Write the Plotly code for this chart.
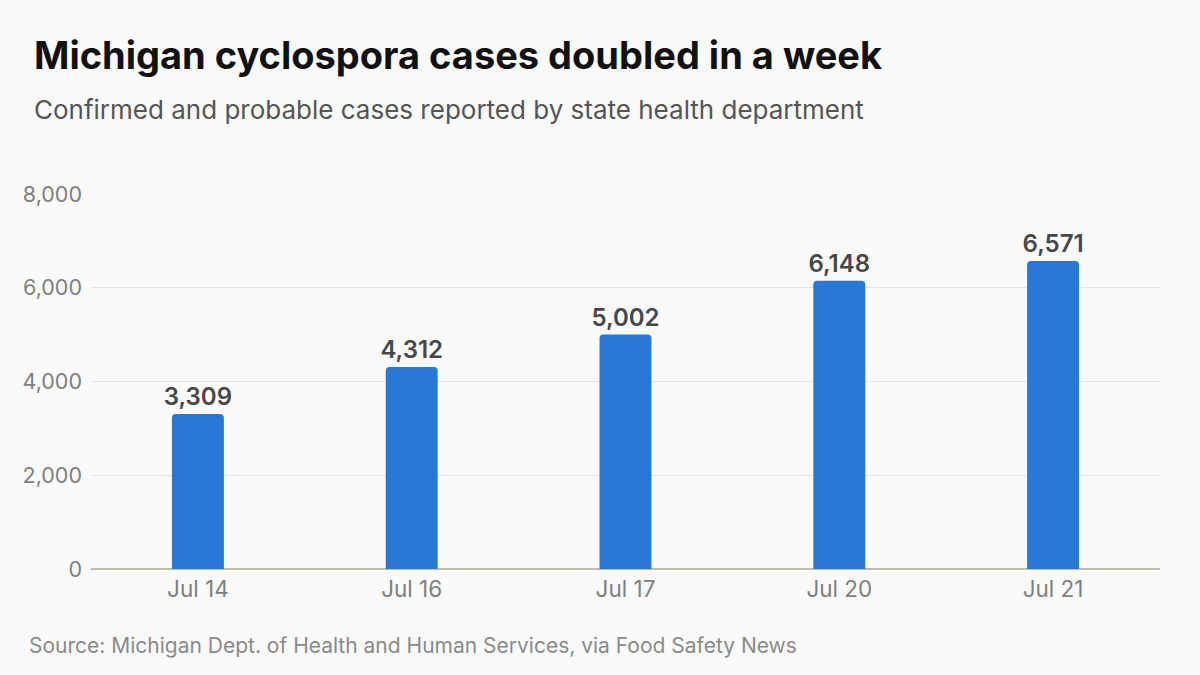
import plotly.graph_objects as go

dates = ["Jul 14", "Jul 16", "Jul 17", "Jul 20", "Jul 21"]
cases = [3309, 4312, 5002, 6148, 6571]
y_ticks = [0, 2000, 4000, 6000, 8000]
y_tick_labels = ["0", "2,000", "4,000", "6,000", "8,000"]

title = "Michigan cyclospora cases doubled in a week"
subtitle = "Confirmed and probable cases reported by state health department"
source = "Source: Michigan Dept. of Health and Human Services, via Food Safety News"

W, H = 1200, 675
L, R, T, B = 91, 40, 194, 106
ph = H - T - B

def py(y):
    return (H - B - y) / ph

fig = go.Figure(go.Bar(
    x=dates, y=cases,
    marker=dict(color="#2878d6", line=dict(width=0)),
    text=[f"{v:,}" for v in cases],
    textposition="outside",
    constraintext="none",
    textfont=dict(family="Inter", size=24, color="#474747", weight=600),
    cliponaxis=False,
    hoverinfo="skip",
))

fig.update_layout(
    width=W, height=H,
    margin=dict(l=L, r=R, t=T, b=B),
    paper_bgcolor="#fafafa", plot_bgcolor="#fafafa",
    bargap=0.757,
    barcornerradius=4,
    showlegend=False,
    font=dict(family="Inter"),
    xaxis=dict(showgrid=False, showline=False, ticks="", tickfont=dict(size=22.5, color="#808080"),
               ticklabelstandoff=4),
    yaxis=dict(range=[0, 8000], tickvals=y_ticks, ticktext=y_tick_labels,
               showgrid=True, gridcolor="#e4e4e4", gridwidth=1,
               zeroline=True, zerolinecolor="#bdbdb3", zerolinewidth=2,
               showline=False, ticks="", ticklabelstandoff=8,
               tickfont=dict(size=21.5, color="#808080")),
    annotations=[
        dict(text=f"<b>{title}</b>", xref="paper", yref="paper", x=-(L - 32) / (W - L - R), y=py(55),
             xanchor="left", yanchor="middle", showarrow=False,
             font=dict(family="Inter", size=38, color="#111111")),
        dict(text=subtitle, xref="paper", yref="paper", x=-(L - 32) / (W - L - R), y=py(109),
             xanchor="left", yanchor="middle", showarrow=False,
             font=dict(family="Inter", size=26, color="#555555")),
        dict(text=source, xref="paper", yref="paper", x=-(L - 27) / (W - L - R), y=py(645),
             xanchor="left", yanchor="middle", showarrow=False,
             font=dict(family="Inter", size=21, color="#8a8a8a")),
    ],
)

fig.write_html("out.html")
